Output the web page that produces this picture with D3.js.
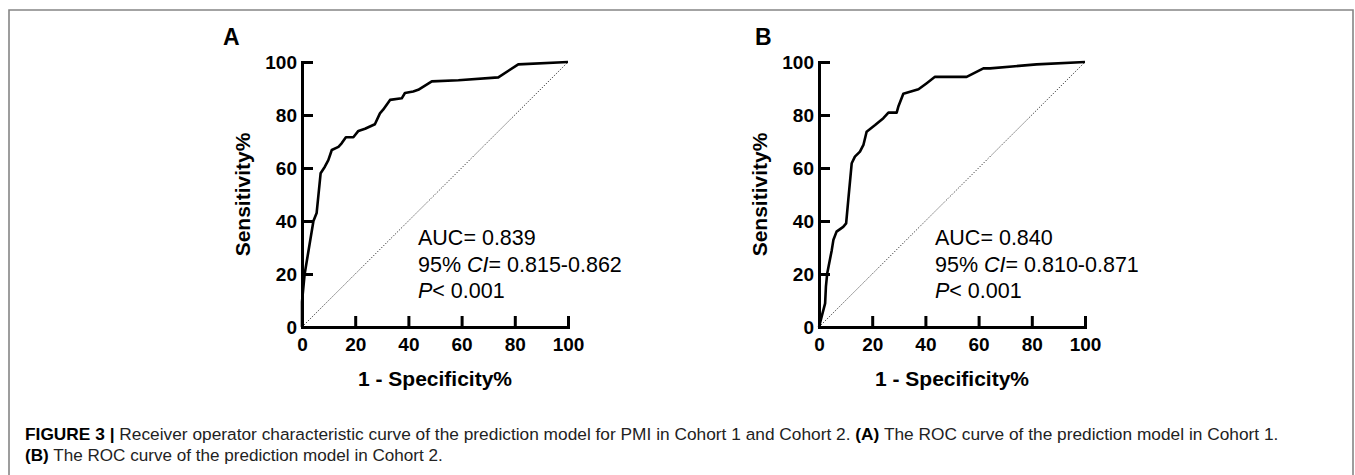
<!DOCTYPE html>
<html><head><meta charset="utf-8">
<script src="https://cdn.jsdelivr.net/npm/d3@7"></script>
<style>body{margin:0;background:#fff}svg{display:block}</style>
</head><body>
<svg id="chart" width="1355" height="475"></svg>
<script>
// ---------- data ----------
const xTicks = [0, 20, 40, 60, 80, 100];
const yTicks = [0, 20, 40, 60, 80, 100];
const panelLabels = ["A", "B"];
const xTitle = "1 - Specificity%";
const yTitle = "Sensitivity%";

// Panel A ROC (1-specificity %, sensitivity %)
const fprA = [0, 0, 1.0, 4.3, 5.5, 7.0, 8.6, 9.9, 11.2, 13.7, 14.9, 16.5, 19.3, 21.2, 23.7, 27.4, 29.3, 30.5, 33.1, 37.5, 38.7, 41.8, 43.7, 48.8, 58.8, 73.8, 81.3, 100];
const tprA = [0, 9.5, 20, 40, 43, 58, 60.5, 63, 66.8, 68, 69.3, 71.6, 71.6, 74, 74.8, 76.5, 80.6, 82, 85.7, 86.3, 88.3, 88.9, 89.5, 92.7, 93.1, 94.2, 99.1, 100];

// Panel B ROC
const fprB = [0, 1.0, 2.3, 2.6, 3.1, 4.8, 5.4, 6.6, 9.1, 10.2, 11.0, 12.3, 13.5, 15.4, 16.7, 17.9, 21.1, 24.2, 26.1, 29.2, 29.8, 31.7, 37.4, 40.5, 43.6, 55.5, 61.8, 64.3, 81.8, 100];
const tprB = [0, 3.9, 8.9, 15.2, 20.3, 29, 32.8, 36, 37.8, 39.1, 47.9, 61.8, 64.3, 66.2, 68.7, 73.7, 76.2, 78.8, 80.9, 80.9, 83.1, 88, 89.7, 92, 94.4, 94.4, 97.6, 97.6, 99.1, 100];

const aucValues = ["0.839", "0.840"];
const ciValues = ["0.815-0.862", "0.810-0.871"];
const pValues = ["0.001", "0.001"];

const captionBold = "FIGURE 3";
const captionLine1 = "Receiver operator characteristic curve of the prediction model for PMI in Cohort 1 and Cohort 2. ";
const captionA = "(A)";
const captionLine1End = " The ROC curve of the prediction model in Cohort 1.";
const captionB = "(B)";
const captionLine2 = " The ROC curve of the prediction model in Cohort 2.";

// ---------- drawing ----------
const svg = d3.select("#chart");
const FONT = "'Liberation Sans', Arial, Helvetica, sans-serif";

// frame
svg.append("path")
  .attr("d", "M9,475V10H1353V475")
  .attr("fill", "none").attr("stroke", "#858585").attr("stroke-width", 1.6);

const panels = [
  {x0: 302, fpr: fprA, tpr: tprA},
  {x0: 819, fpr: fprB, tpr: tprB}
];
const size = 266, yTop = 62, yBottom = 327;

panels.forEach((p, i) => {
  const x = d3.scaleLinear().domain([0, 100]).range([p.x0, p.x0 + size]);
  const y = d3.scaleLinear().domain([0, 100]).range([yBottom, yTop]);
  const g = svg.append("g");

  // diagonal reference
  g.append("line")
    .attr("x1", x(0)).attr("y1", y(0)).attr("x2", x(100)).attr("y2", y(100))
    .attr("stroke", "#333").attr("stroke-width", 1).attr("stroke-dasharray", "1.2,1.6");

  // ROC curve
  const pts = p.fpr.map((v, k) => [v, p.tpr[k]]);
  g.append("path")
    .datum(pts)
    .attr("d", d3.line().x(d => x(d[0])).y(d => y(d[1])))
    .attr("fill", "none").attr("stroke", "#000").attr("stroke-width", 2.6)
    .attr("stroke-linejoin", "round");

  // axes
  const xa = g.append("g").attr("transform", `translate(0,${yBottom})`)
    .call(d3.axisBottom(x).tickValues(xTicks).tickSize(-11).tickSizeOuter(0).tickPadding(11));
  const ya = g.append("g").attr("transform", `translate(${p.x0},0)`)
    .call(d3.axisLeft(y).tickValues(yTicks).tickSize(-11).tickSizeOuter(0).tickPadding(5));
  [xa, ya].forEach(a => {
    a.select(".domain").attr("stroke", "#000").attr("stroke-width", 3).attr("stroke-linecap", "square");
    a.selectAll(".tick line").attr("stroke", "#000").attr("stroke-width", 3);
    a.selectAll(".tick text").attr("fill", "#000")
      .style("font-family", FONT).style("font-size", "19px").style("font-weight", "bold");
  });

  // titles
  g.append("text")
    .attr("x", x(50)).attr("y", 386).attr("text-anchor", "middle")
    .style("font-family", FONT).style("font-size", "21px").style("font-weight", "bold")
    .text(xTitle);
  g.append("text")
    .attr("transform", `translate(${p.x0 - 52},${y(50)}) rotate(-90)`)
    .attr("text-anchor", "middle")
    .style("font-family", FONT).style("font-size", "21px").style("font-weight", "bold")
    .text(yTitle);

  // panel label
  g.append("text")
    .attr("x", p.x0 - 79 + (i === 1 ? 15 : 0)).attr("y", 45)
    .style("font-family", FONT).style("font-size", "23px").style("font-weight", "bold")
    .text(panelLabels[i]);

  // annotation
  const ax = p.x0 + 116;
  const ann = g.append("g").style("font-family", FONT).style("font-size", "21.5px").attr("fill", "#000");
  ann.append("text").attr("x", ax).attr("y", 245).text("AUC= " + aucValues[i]);
  const t2 = ann.append("text").attr("x", ax).attr("y", 272);
  t2.append("tspan").text("95% ");
  t2.append("tspan").style("font-style", "italic").text("CI");
  t2.append("tspan").text("= " + ciValues[i]);
  const t3 = ann.append("text").attr("x", ax).attr("y", 298);
  t3.append("tspan").style("font-style", "italic").text("P");
  t3.append("tspan").text("< " + pValues[i]);
});

// caption
function captionLine(parts, yBase, targetWidth) {
  const g = svg.append("g").attr("transform", `translate(25,${yBase})`);
  const t = g.append("text").attr("x", 0).attr("y", 0)
    .style("font-family", FONT).style("font-size", "16.5px").attr("fill", "#222");
  parts.forEach(pt => t.append("tspan").style("font-weight", pt.b ? "bold" : "normal")
    .attr("fill", pt.b ? "#000" : "#222").text(pt.t));
  const w = t.node().getComputedTextLength();
  g.attr("transform", `translate(25,${yBase}) scale(${targetWidth / w},1)`);
}
captionLine([
  {t: captionBold + " | ", b: true},
  {t: captionLine1, b: false},
  {t: captionA, b: true},
  {t: captionLine1End, b: false}
], 440, 1254);
captionLine([
  {t: captionB, b: true},
  {t: captionLine2, b: false}
], 461, 418);
</script>
</body></html>
